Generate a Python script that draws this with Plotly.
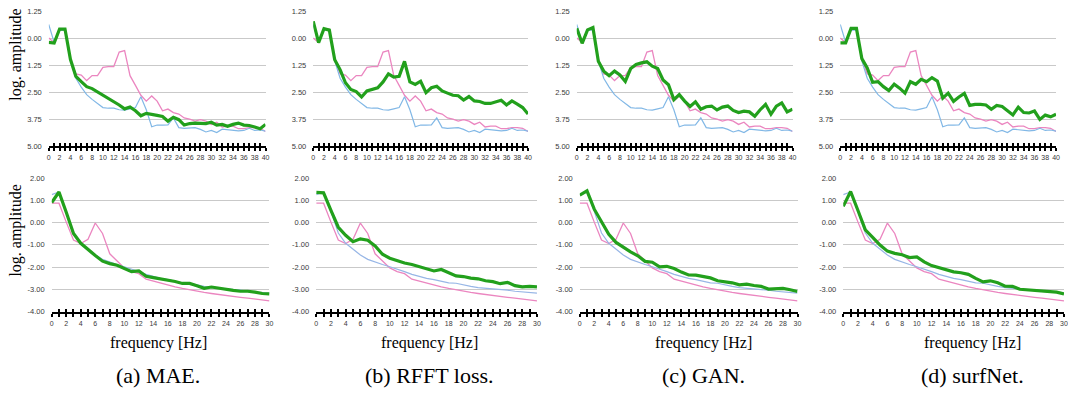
import plotly.graph_objects as go

# ---------------- data ----------------
freq_top = list(range(0, 41))
freq_bot = list(range(0, 31))

top_pink = [0.0, -0.2, 0.42, 0.42, -0.98, -1.66, -1.71, -1.97, -1.74, -1.74, -1.36, -1.32, -1.32, -0.65, -0.58,
            -1.74, -2.19, -2.65, -2.92, -2.68, -2.92, -3.37, -3.29, -3.45, -3.52, -3.70, -3.76, -3.85, -3.78,
            -3.85, -4.00, -3.90, -4.12, -4.08, -4.08, -4.20, -4.20, -4.15, -4.15, -4.18, -4.33]
top_blue = [0.63, -0.2, 0.37, 0.37, -1.06, -1.86, -2.27, -2.62, -2.84, -3.02, -3.22, -3.25, -3.25, -3.32, -3.34,
            -3.28, -3.22, -2.72, -3.32, -4.11, -4.03, -4.03, -4.02, -3.70, -4.15, -4.18, -4.18, -4.15, -4.23,
            -4.35, -4.28, -4.38, -4.22, -4.25, -4.28, -4.30, -4.28, -4.18, -4.28, -4.26, -4.31]

top_mae = [-0.2, -0.23, 0.42, 0.42, -0.98, -1.77, -2.02, -2.25, -2.34, -2.49, -2.65, -2.80, -2.92, -3.10, -3.28,
           -3.19, -3.37, -3.60, -3.49, -3.55, -3.58, -3.63, -3.85, -3.67, -3.78, -4.03, -3.96, -3.94, -3.94,
           -3.96, -3.90, -4.03, -4.00, -4.09, -4.00, -3.94, -4.03, -4.05, -4.12, -4.20, -4.00]
top_rfft = [0.78, -0.21, 0.44, 0.37, -1.00, -1.46, -2.07, -2.38, -2.48, -2.73, -2.45, -2.38, -2.30, -2.03, -1.66,
            -1.81, -1.77, -1.08, -2.03, -2.15, -2.00, -2.53, -2.30, -2.23, -2.45, -2.55, -2.65, -2.67, -2.87,
            -2.71, -2.91, -2.94, -3.03, -3.03, -2.96, -2.88, -3.10, -2.91, -3.06, -3.22, -3.52]
top_gan = [0.45, -0.24, 0.38, 0.49, -1.07, -1.53, -1.74, -1.53, -1.71, -2.01, -1.41, -1.22, -1.15, -1.10, -1.30,
           -1.41, -1.94, -2.16, -2.85, -2.62, -2.92, -3.17, -2.95, -3.30, -3.18, -3.15, -3.33, -3.20, -3.15,
           -3.35, -3.45, -3.39, -3.42, -3.62, -3.32, -3.07, -3.53, -3.15, -3.00, -3.42, -3.30]
top_surf = [-0.22, -0.22, 0.45, 0.45, -0.95, -1.38, -2.05, -2.02, -2.25, -2.43, -2.14, -2.32, -2.55, -2.02, -2.14,
            -1.91, -2.02, -1.83, -1.99, -2.78, -2.55, -2.93, -2.73, -2.56, -3.12, -3.07, -3.07, -3.10, -3.30,
            -3.12, -3.17, -3.38, -3.56, -3.20, -3.45, -3.47, -3.38, -3.77, -3.57, -3.65, -3.53]

bot_pink = [0.87, 0.87, 0.02, -0.78, -0.94, -0.75, -0.02, -0.49, -1.40, -1.70, -2.03, -2.20, -2.29, -2.54, -2.63,
            -2.72, -2.80, -2.88, -2.95, -3.02, -3.08, -3.13, -3.18, -3.23, -3.27, -3.31, -3.35, -3.39, -3.42,
            -3.46, -3.51]
bot_blue = [1.25, 1.37, 0.50, -0.47, -0.93, -1.20, -1.45, -1.65, -1.78, -1.88, -1.98, -2.08, -2.20, -2.32, -2.42,
            -2.50, -2.56, -2.62, -2.70, -2.72, -2.80, -2.86, -2.92, -2.94, -2.96, -3.00, -3.03, -3.08, -3.10,
            -3.12, -3.16]

bot_mae = [0.90, 1.37, 0.46, -0.49, -0.93, -1.22, -1.48, -1.73, -1.84, -1.91, -2.06, -2.20, -2.17, -2.41, -2.47,
           -2.52, -2.58, -2.64, -2.73, -2.73, -2.83, -2.95, -2.89, -2.95, -2.98, -3.04, -3.08, -3.08, -3.12,
           -3.18, -3.20]
bot_rfft = [1.35, 1.33, 0.55, -0.21, -0.57, -0.86, -0.73, -0.79, -1.05, -1.42, -1.60, -1.71, -1.81, -1.88, -1.97,
            -2.06, -2.17, -2.10, -2.26, -2.39, -2.42, -2.49, -2.52, -2.61, -2.65, -2.74, -2.68, -2.83, -2.88,
            -2.86, -2.88]
bot_gan = [1.23, 1.42, 0.60, 0.06, -0.53, -0.89, -1.11, -1.31, -1.49, -1.74, -1.78, -1.99, -1.96, -2.06, -2.22,
           -2.35, -2.36, -2.42, -2.48, -2.61, -2.66, -2.70, -2.79, -2.76, -2.82, -2.86, -2.98, -2.98, -2.95,
           -3.01, -3.09]
bot_surf = [0.73, 1.39, 0.54, -0.33, -0.66, -1.01, -1.28, -1.38, -1.44, -1.57, -1.54, -1.76, -1.93, -2.02, -2.09,
            -2.21, -2.25, -2.32, -2.50, -2.66, -2.61, -2.70, -2.85, -2.86, -2.99, -3.02, -3.04, -3.05, -3.11,
            -3.12, -3.20]

captions = ["(a) MAE.", "(b) RFFT loss.", "(c) GAN.", "(d) surfNet."]
top_green = [top_mae, top_rfft, top_gan, top_surf]
bot_green = [bot_mae, bot_rfft, bot_gan, bot_surf]

top_tickvals = [1.25, 0.0, -1.25, -2.5, -3.75, -5.0]
top_ticktext = ["1.25", "0.00", "1.25", "2.50", "3.75", "5.00"]
bot_tickvals = [2, 1, 0, -1, -2, -3, -4]
bot_ticktext = ["2.00", "1.00", "0.00", "-1.00", "-2.00", "-3.00", "-4.00"]

# ---------------- layout geometry (pixels) ----------------
W, H = 1068, 394
top_x = [(47, 265), (313, 529), (578, 795), (843, 1060)]
bot_x = [(50, 269), (316, 538), (581, 800), (846, 1068)]
top_y = (7.3, 145.3)
bot_y = (178, 315)
cap_cx = [157, 430, 705, 976]

GREEN = "#22a01c"
PINK = "#eb86c0"
BLUE_T = "#82b8e6"
BLUE_B = "#97b6e6"
SANS = "Liberation Sans, Arial, sans-serif"
SERIF = "Liberation Serif, Times New Roman, serif"

fig = go.Figure()
layout = dict(width=W, height=H, margin=dict(l=0, r=0, t=0, b=0),
              paper_bgcolor="white", plot_bgcolor="white", showlegend=False)


def xd(px):
    return [px[0] / W, px[1] / W]


def yd(py):
    return [1 - py[1] / H, 1 - py[0] / H]


annotations = []
n = 0
for row in range(2):
    for col in range(4):
        n += 1
        xa = f"x{n}" if n > 1 else "x"
        ya = f"y{n}" if n > 1 else "y"
        if row == 0:
            xs = freq_top
            series = [(top_pink, PINK, 1.3), (top_blue, BLUE_T, 1.2), (top_green[col], GREEN, 3.2)]
            xdom, ydom = xd(top_x[col]), yd(top_y)
            xr, yr = [0, 40], [-5, 1.25]
            tv, tt = top_tickvals, top_ticktext
        else:
            xs = freq_bot
            series = [(bot_pink, PINK, 1.3), (bot_blue, BLUE_B, 1.2), (bot_green[col], GREEN, 3.2)]
            xdom, ydom = xd(bot_x[col]), yd(bot_y)
            xr, yr = [0, 30], [-4, 2]
            tv, tt = bot_tickvals, bot_ticktext
        for vals, colr, wdt in series:
            fig.add_trace(go.Scatter(x=xs, y=vals, xaxis=xa, yaxis=ya, mode="lines",
                                     line=dict(color=colr, width=wdt), hoverinfo="skip",
                                     cliponaxis=False))
        layout[f"xaxis{n}"] = dict(domain=xdom, range=xr, anchor=ya, showgrid=False, zeroline=False,
                                   showline=True, linecolor="black", linewidth=1.5,
                                   ticks="outside", ticklen=3, tickwidth=1.5, tickcolor="black",
                                   tick0=0, dtick=2, tickangle=0,
                                   minor=dict(ticks="outside", ticklen=3, tickwidth=1.5,
                                              tickcolor="black", dtick=1, tick0=0, showgrid=False),
                                   tickfont=dict(family=SANS, size=7, color="#3a3a3a"),
                                   ticklabelstandoff=1, fixedrange=True)
        layout[f"yaxis{n}"] = dict(domain=ydom, range=yr, anchor=xa, showgrid=True,
                                   gridcolor="#c9c9c9", gridwidth=1, zeroline=False,
                                   showline=False, ticks="", tickvals=tv, ticktext=tt,
                                   tickfont=dict(family=SANS, size=7.5, color="#3a3a3a"),
                                   ticklabelstandoff=6, fixedrange=True)
        # overlay axis to draw the upper half of the cross-shaped tick marks
        m = n + 8
        layout[f"xaxis{m}"] = dict(domain=xdom, range=xr, anchor=ya, overlaying=xa, side="bottom",
                                   showgrid=False, zeroline=False, showline=False,
                                   ticks="inside", ticklen=3, tickwidth=1.5, tickcolor="black",
                                   tick0=0, dtick=1, showticklabels=False, fixedrange=True)
        if row == 1:
            annotations.append(dict(text="frequency [Hz]", x=cap_cx[col] / W, y=1 - 347 / H,
                                    xref="paper", yref="paper", showarrow=False,
                                    xanchor="center", yanchor="middle",
                                    font=dict(family=SERIF, size=16, color="black")))
            annotations.append(dict(text=captions[col], x=cap_cx[col] / W, y=1 - 380 / H,
                                    xref="paper", yref="paper", showarrow=False,
                                    xanchor="center", yanchor="middle",
                                    font=dict(family=SERIF, size=22, color="black")))

for cy in (52, 232):
    annotations.append(dict(text="log. amplitude", x=14 / W, y=1 - cy / H, xref="paper", yref="paper",
                            showarrow=False, textangle=-90, xanchor="center", yanchor="middle",
                            font=dict(family=SERIF, size=16, color="black")))

layout["annotations"] = annotations
fig.update_layout(**layout)

# dummy traces on overlay axes so they render
for n in range(1, 9):
    m = n + 8
    ya = f"y{n}" if n > 1 else "y"
    rng = [0, 40] if n <= 4 else [0, 30]
    fig.add_trace(go.Scatter(x=rng, y=[None, None], xaxis=f"x{m}", yaxis=ya, mode="lines",
                             hoverinfo="skip", showlegend=False))

fig.write_html("out.html")
